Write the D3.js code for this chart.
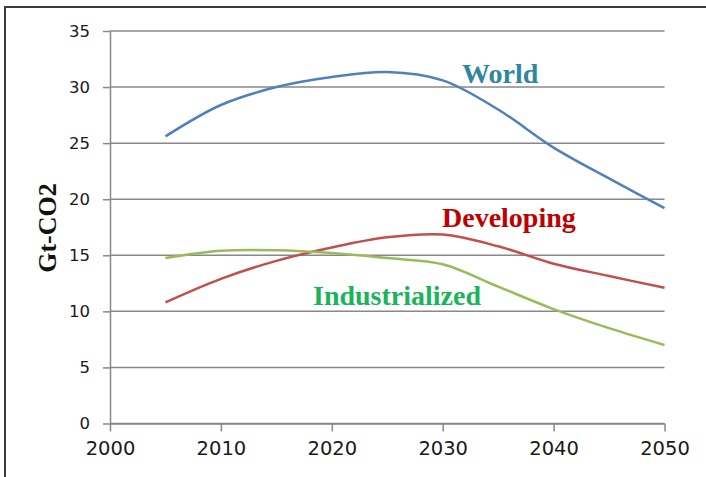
<!DOCTYPE html>
<html>
<head>
<meta charset="utf-8">
<script src="https://cdn.jsdelivr.net/npm/d3@7"></script>
<style>
  body { margin: 0; background: #fff; }
  svg { display: block; }
</style>
</head>
<body>
<div id="my_dataviz"></div>
<script>
// data
var years = [2005, 2010, 2015, 2020, 2025, 2030, 2035, 2040, 2045, 2050];
var world = [25.6, 28.4, 30.0, 30.9, 31.35, 30.6, 28.0, 24.6, 21.85, 19.2];
var developing = [10.8, 12.9, 14.5, 15.7, 16.6, 16.85, 15.8, 14.25, 13.15, 12.1];
var industrialized = [14.75, 15.4, 15.45, 15.2, 14.75, 14.2, 12.2, 10.2, 8.5, 7.0];
var xTicks = [2000, 2010, 2020, 2030, 2040, 2050];
var yTicks = [0, 5, 10, 15, 20, 25, 30, 35];

var series = [
    {name: "World", values: world, color: "#4f81bd", labelColor: "#31869f", lx: 462, ly: 83},
    {name: "Developing", values: developing, color: "#c0504d", labelColor: "#c00000", lx: 442, ly: 227},
    {name: "Industrialized", values: industrialized, color: "#9bbb59", labelColor: "#1cb45a", lx: 313, ly: 305}
];

var W = 706, H = 477;
// plot area edges (pixels)
var plot = {left: 110, right: 664.5, top: 31, bottom: 423.5};

var svg = d3.select("#my_dataviz")
    .append("svg")
    .attr("width", W)
    .attr("height", H);

svg.append("rect")
    .attr("width", W).attr("height", H)
    .attr("fill", "#fff");

// outer frame (runs off the right and bottom edges)
svg.append("rect")
    .attr("x", 5).attr("y", 7)
    .attr("width", 800).attr("height", 600)
    .attr("fill", "none")
    .attr("stroke", "#3a3a3a")
    .attr("stroke-width", 2);

var x = d3.scaleLinear().domain([2000, 2050]).range([plot.left, plot.right]);
var y = d3.scaleLinear().domain([0, 35]).range([plot.bottom, plot.top]);

var gridColor = "#888";

// gridlines
svg.append("g")
    .selectAll("line")
    .data(yTicks)
    .enter()
    .append("line")
    .attr("x1", plot.left)
    .attr("x2", plot.right)
    .attr("y1", function(d) { return y(d); })
    .attr("y2", function(d) { return y(d); })
    .attr("stroke", gridColor)
    .attr("stroke-width", 1.5);

// y axis
var yAxis = svg.append("g")
    .attr("transform", "translate(" + plot.left + ",0)")
    .call(d3.axisLeft(y).tickValues(yTicks).tickSizeInner(7).tickSizeOuter(0).tickPadding(13));
yAxis.selectAll("line").attr("stroke", gridColor).attr("stroke-width", 1.5);
yAxis.select(".domain").attr("stroke", gridColor).attr("stroke-width", 1.5);
yAxis.selectAll("text")
    .style("font-family", "'DejaVu Sans', sans-serif")
    .style("font-size", "16.5px")
    .attr("fill", "#1a1a1a");

// x axis
var xAxis = svg.append("g")
    .attr("transform", "translate(0," + plot.bottom + ")")
    .call(d3.axisBottom(x).tickValues(xTicks).tickFormat(d3.format("d")).tickSizeInner(8).tickSizeOuter(0).tickPadding(10));
xAxis.selectAll("line").attr("stroke", gridColor).attr("stroke-width", 1.5);
xAxis.select(".domain").attr("stroke", gridColor).attr("stroke-width", 1.5);
xAxis.selectAll("text")
    .style("font-family", "'DejaVu Sans', sans-serif")
    .style("font-size", "19.5px")
    .attr("fill", "#1a1a1a");

// y axis label
svg.append("text")
    .attr("x", -228)
    .attr("y", 56)
    .attr("transform", "rotate(-90)")
    .attr("text-anchor", "middle")
    .style("font-family", "'Liberation Serif', serif")
    .style("font-weight", "bold")
    .style("font-size", "26px")
    .attr("fill", "#111")
    .text("Gt-CO2");

// lines
var line = d3.line()
    .x(function(d) { return x(d.x); })
    .y(function(d) { return y(d.y); })
    .curve(d3.curveCatmullRom.alpha(0.5));

series.forEach(function(s) {
    var pts = years.map(function(yr, i) { return {x: yr, y: s.values[i]}; });
    svg.append("path")
        .datum(pts)
        .attr("fill", "none")
        .attr("stroke", s.color)
        .attr("stroke-width", 2.5)
        .attr("d", line);
});

// series labels
svg.append("g")
    .selectAll("text")
    .data(series)
    .enter()
    .append("text")
    .attr("x", function(d) { return d.lx; })
    .attr("y", function(d) { return d.ly; })
    .style("font-family", "'Liberation Serif', serif")
    .style("font-weight", "bold")
    .style("font-size", "28px")
    .attr("fill", function(d) { return d.labelColor; })
    .text(function(d) { return d.name; });
</script>
</body>
</html>
